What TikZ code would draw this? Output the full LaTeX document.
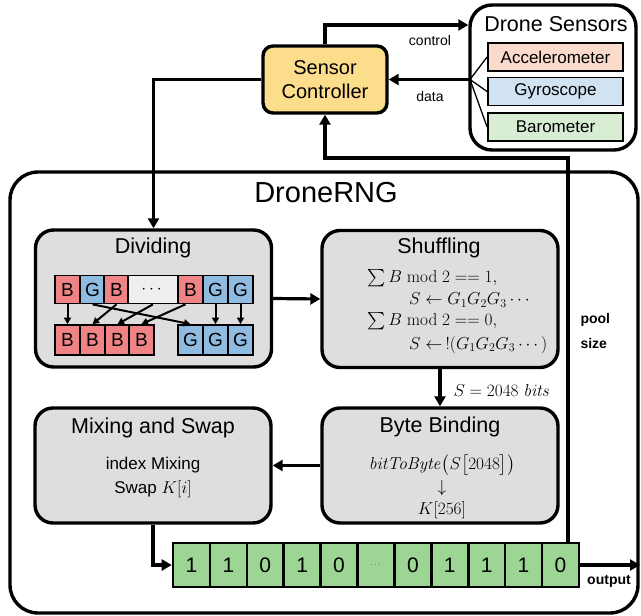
\documentclass[tikz,border=0pt]{standalone}
\usepackage{amsmath}
\usepackage[no-math]{fontspec}
\setmainfont{Liberation Sans}
\usetikzlibrary{arrows.meta,positioning,calc}
\definecolor{ctrlfill}{HTML}{FCDD8C}
\definecolor{boxgray}{HTML}{DEDEDE}
\definecolor{bred}{HTML}{F08385}
\definecolor{gblue}{HTML}{8FBBE0}
\definecolor{dotgray}{HTML}{EFEFEF}
\definecolor{accfill}{HTML}{FADACB}
\definecolor{gyrofill}{HTML}{D1E3F2}
\definecolor{barofill}{HTML}{D9EDD5}
\definecolor{bitgreen}{HTML}{9DD594}

\begin{document}
\begin{tikzpicture}[x=1pt, y=-1pt,
  frame/.style={draw=black, line width=3.4pt, rounded corners=28pt},
  panel/.style={draw=black, line width=3.4pt, rounded corners=18pt, fill=boxgray, minimum width=236pt, minimum height=137pt},
  sens/.style={draw=black, line width=1.8pt, minimum width=135pt, minimum height=28pt, inner sep=0pt, font=\fontsize{17}{18}\selectfont},
  ttl/.style={font=\fontsize{21.5}{23}\selectfont},
  letter/.style={draw=black, line width=1.7pt, minimum width=25pt, minimum height=28pt, inner sep=0pt, font=\fontsize{19}{19}\selectfont},
  obit/.style={draw=black, line width=2.6pt, fill=bitgreen, minimum width=36.9pt, minimum height=44pt, inner sep=0pt, font=\fontsize{21}{21}\selectfont},
  arr/.style={line width=3.2pt, -{Triangle[length=10pt,width=11pt]}},
  thin/.style={line width=2pt, -{Triangle[length=6.5pt,width=7pt]}},
  lbl/.style={font=\fontsize{14}{16}\selectfont},
  eq/.style={inner sep=0pt, font=\fontsize{17}{19}\selectfont},
  txt/.style={inner sep=0pt, font=\fontsize{17}{19}\selectfont},
]
\useasboundingbox (0,0) rectangle (641,616);

% outer frames
\node[frame, minimum width=628pt, minimum height=441pt] (rng) at (324,392.5) {};
\node[font=\fontsize{29}{31}\selectfont] (rngtitle) at (326,193) {DroneRNG};
\node[frame, rounded corners=22pt, minimum width=166pt, minimum height=145pt] (sensbox) at (553,77.5) {};
\node[ttl] (senstitle) at (556,24) {Drone Sensors};
\node[sens, fill=accfill] (acc) at (555.5,57) {Accelerometer};
\node[sens, fill=gyrofill] (gyro) at (555.5,91.5) {Gyroscope};
\node[sens, fill=barofill] (baro) at (555.5,127) {Barometer};

\node[draw=black, line width=3.4pt, rounded corners=10pt, fill=ctrlfill, minimum width=124pt, minimum height=67pt, align=center, font=\fontsize{20}{24}\selectfont] (ctrl) at (325,79.5) {Sensor\\Controller};

% processing stages
\node[panel] (div) at (153.5,298.5) {};
\node[panel] (shuf) at (440,299) {};
\node[panel, minimum height=115pt] (mix) at (153,465.5) {};
\node[panel, minimum height=115pt] (bind) at (440,465.5) {};
\node[ttl] (divtitle) at (153,248) {Dividing};
\node[ttl] (shuftitle) at (439,248) {Shuffling};
\node[ttl] (mixtitle) at (153,428) {Mixing and Swap};
\node[ttl] (bindtitle) at (440,427) {Byte Binding};

% dividing cells
\foreach \lt/\cx/\col/\nm in {B/67.5/bred/t1, G/92.5/gblue/t2, B/116.5/bred/t3, B/190.5/bred/t5, G/215.5/gblue/t6, G/240.5/gblue/t7}
  \node[letter, fill=\col] (\nm) at (\cx,289.5) {\lt};
\node[letter, fill=dotgray, minimum width=50pt] (t4) at (153,289.5) {$\cdots$};
\foreach \lt/\cx/\col/\nm in {B/67.5/bred/b1, B/92.5/bred/b2, B/117.5/bred/b3, B/141.5/bred/b4, G/190.5/gblue/g1, G/215.5/gblue/g2, G/240.5/gblue/g3}
  \node[letter, fill=\col, minimum height=30pt] (\nm) at (\cx,340) {\lt};
\draw[thin] (t1.south) -- (b1.north);
\draw[thin] (t3.south) -- (b2.north);
\draw[thin] (t4.south) -- (b3.north);
\draw[thin] ([xshift=-5pt]t5.south) -- (b4.north);
\draw[thin] (t2.south) -- (g1.north);
\draw[thin] (t6.south) -- (g2.north);
\draw[thin] (t7.south) -- (g3.north);

% stage contents
\node[eq, anchor=west] (odd) at (367,278) {$\sum B \bmod 2 == 1,$};
\node[eq, anchor=west] (oddres) at (409,300) {$S \leftarrow G_1G_2G_3\cdots$};
\node[eq, anchor=west] (even) at (367,321) {$\sum B \bmod 2 == 0,$};
\node[eq, anchor=west] (evenres) at (409,345) {$S \leftarrow\,!(G_1G_2G_3\cdots)$};
\node[eq] (tobyte) at (442,465) {$\mathit{bitToByte}\bigl(S\bigl[2048\bigr]\bigr)$};
\node[eq] (down) at (442,488) {$\downarrow$};
\node[eq] (keyarr) at (442,510) {$K[256]$};
\node[txt] (mixline) at (153,465) {index Mixing};
\node[txt] (swapline) at (153,489) {Swap $K[i]$};
\node[anchor=west, font=\fontsize{16.5}{18}\selectfont] (slbl) at (450,390) {$S = 2048\ \mathit{bits}$};

% output pool
\foreach \v [count=\i] in {1,1,0,1,0,{\scriptsize$\cdots$},0,1,1,1,0}
  \node[obit] (o\i) at ({173+36.9*(\i-0.5)},565) {\v};

% connectors
\coordinate (fan) at (470,79.5);
\coordinate (ctrlup) at (327,25);
\coordinate (poolbend) at (568,158);
\coordinate (outend) at (640,565);
\draw[line width=1.3pt] (fan) -- (acc.west) (fan) -- (gyro.west) (fan) -- (baro.west);
\draw[arr] (fan) -- (ctrl.east);
\draw[arr] (ctrl.north) |- (sensbox.west |- ctrlup);
\draw[arr] (ctrl.west) -| (div.north);
\draw[arr] (div.east) -- (shuf.west);
\draw[arr] (shuf.south) -- (bind.north);
\draw[arr] (bind.west) -- (mix.east);
\draw[arr] (mix.south) |- (o1.west);
\draw[arr] (o11.east) -- (outend);
\draw[arr] (o11.north -| poolbend) -- (poolbend) -| (ctrl.south);

% labels
\node[lbl] (ctrllbl) at (430,40) {control};
\node[lbl] (datalbl) at (430,96) {data};
\node[lbl, font=\fontsize{14}{16}\selectfont\bfseries, anchor=west] (poollbl) at (577,320) {pool};
\node[lbl, font=\fontsize{14}{16}\selectfont\bfseries, anchor=west] (sizelbl) at (577,343) {size};
\node[lbl, font=\fontsize{14}{16}\selectfont\bfseries] (outlbl) at (609,581) {output};
\end{tikzpicture}
\end{document}
